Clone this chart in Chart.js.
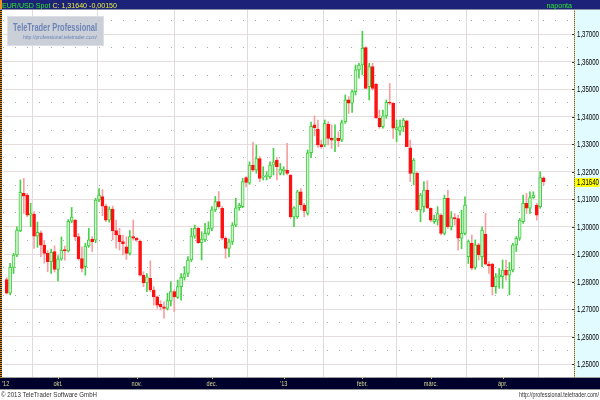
<!DOCTYPE html>
<html><head><meta charset="utf-8">
<script src="https://cdn.jsdelivr.net/npm/chart.js@4.4.1/dist/chart.umd.min.js"></script>
<style>html,body{margin:0;padding:0;background:#fff;overflow:hidden}#c{display:block}</style>
</head><body>
<canvas id="c" width="600" height="400"></canvas>
<script>
const opens = [1.2808,1.2758,1.2852,1.2897,1.2985,1.3121,1.3115,1.3042,1.3046,1.2966,1.2978,1.2933,1.2903,1.2873,1.2910,
1.2845,1.2882,1.2917,1.2912,1.3020,1.3024,1.2964,1.2884,1.2855,1.2930,1.2955,1.2951,1.3097,1.3110,1.3075,1.3024,1.3064,1.2986,1.2970,1.2946,1.2927,1.2903,1.2964,
1.2958,1.2948,1.2824,1.2796,1.2812,1.2770,1.2745,1.2718,1.2709,1.2703,1.2730,1.2764,1.2743,1.2782,1.2816,1.2830,1.2879,1.2966,1.2994,1.2942,1.2952,1.2976,
1.2994,1.3061,1.3091,1.3067,1.2958,1.2921,1.2945,1.3006,1.3069,1.3073,1.3179,1.3158,1.3224,1.3206,1.3248,1.3180,1.3183,1.3182,1.3224,1.3242,1.3194,
1.3204,1.3206,1.3188,1.3036,1.3036,1.3127,1.3079,1.3048,1.3269,1.3370,1.3355,1.3299,1.3297,1.3373,1.3321,1.3315,1.3321,1.3315,1.3382,1.3461,1.3449,1.3491,1.3570,
1.3588,1.3651,1.3509,1.3582,1.3518,1.3394,1.3364,1.3403,1.3452,1.3449,1.3352,1.3348,1.3364,1.3385,1.3287,1.3194,1.3194,1.3061,1.3073,1.3133,
1.3067,1.3018,1.3024,1.3042,1.2976,1.3103,1.3000,1.3033,1.3030,1.2958,1.2976,1.2891,1.2940,1.2852,1.2934,1.2891,1.2973,1.2864,1.2864,1.2782,1.2818,
1.2818,1.2842,1.2824,1.2842,1.2934,1.2958,1.3018,1.3085,1.3067,1.3106,1.3079,1.3073,1.3178];
const highs = [1.2815,1.2867,1.2903,1.3000,1.3170,1.3176,1.3121,1.3085,1.3055,1.3017,1.2985,1.2951,1.2913,1.2919,1.2930,
1.2895,1.2963,1.2930,1.3026,1.3070,1.3027,1.2975,1.2927,1.2940,1.2994,1.2964,1.3103,1.3139,1.3135,1.3082,1.3072,1.3075,1.3024,1.2994,1.2970,1.2964,1.2986,1.3024,
1.2961,1.2952,1.2836,1.2830,1.2876,1.2782,1.2748,1.2731,1.2727,1.2758,1.2800,1.2770,1.2806,1.2830,1.2855,1.2891,1.2994,1.3006,1.2998,1.2982,1.3012,1.3018,
1.3073,1.3110,1.3128,1.3073,1.2964,1.2955,1.3015,1.3103,1.3085,1.3176,1.3182,1.3236,1.3307,1.3297,1.3255,1.3218,1.3200,1.3236,1.3285,1.3251,1.3230,
1.3218,1.3303,1.3190,1.3073,1.3133,1.3139,1.3085,1.3279,1.3380,1.3403,1.3388,1.3315,1.3388,1.3382,1.3370,1.3370,1.3345,1.3388,1.3479,1.3473,1.3497,1.3588,1.3594,
1.3711,1.3655,1.3594,1.3594,1.3521,1.3424,1.3424,1.3461,1.3521,1.3452,1.3388,1.3388,1.3394,1.3388,1.3315,1.3248,1.3200,1.3121,1.3164,1.3167,
1.3069,1.3042,1.3073,1.3048,1.3115,1.3133,1.3055,1.3048,1.3042,1.3060,1.3109,1.2952,1.2970,1.2952,1.2940,1.3000,1.3049,1.2873,1.2867,1.2830,1.2848,
1.2879,1.2879,1.2870,1.2940,1.2964,1.3030,1.3115,1.3121,1.3127,1.3127,1.3085,1.3200,1.3182];
const lows = [1.2755,1.2752,1.2830,1.2891,1.2982,1.3048,1.3036,1.3000,1.2921,1.2925,1.2891,1.2867,1.2836,1.2830,1.2835,
1.2803,1.2878,1.2878,1.2908,1.3014,1.2952,1.2878,1.2836,1.2824,1.2925,1.2910,1.2942,1.3091,1.3040,1.3018,1.3016,1.2952,1.2922,1.2915,1.2897,1.2881,1.2897,1.2951,
1.2946,1.2820,1.2782,1.2764,1.2764,1.2715,1.2703,1.2697,1.2667,1.2697,1.2712,1.2691,1.2739,1.2733,1.2806,1.2818,1.2873,1.2958,1.2939,1.2879,1.2946,1.2970,
1.2986,1.3055,1.3067,1.2952,1.2885,1.2890,1.2935,1.3000,1.3060,1.3069,1.3145,1.3154,1.3200,1.3194,1.3164,1.3170,1.3170,1.3176,1.3188,1.3170,1.3188,
1.3188,1.3188,1.3030,1.3000,1.3030,1.3061,1.3036,1.3042,1.3251,1.3330,1.3288,1.3285,1.3291,1.3297,1.3285,1.3273,1.3291,1.3309,1.3376,1.3412,1.3416,1.3479,1.3540,
1.3552,1.3503,1.3461,1.3497,1.3394,1.3358,1.3358,1.3394,1.3443,1.3321,1.3309,1.3333,1.3345,1.3291,1.3164,1.3152,1.3055,1.3018,1.3055,1.3067,
1.3018,1.3012,1.3006,1.2970,1.2970,1.2994,1.2988,1.3006,1.2915,1.2920,1.2970,1.2866,1.2843,1.2845,1.2879,1.2855,1.2861,1.2830,1.2752,1.2758,1.2776,
1.2776,1.2806,1.2752,1.2836,1.2910,1.2952,1.3012,1.3048,1.3048,1.3103,1.3024,1.3067,1.3152];
const closes = [1.2758,1.2852,1.2897,1.2988,1.3125,1.3111,1.3042,1.3048,1.2966,1.2980,1.2933,1.2903,1.2873,1.2907,1.2845,
1.2882,1.2915,1.2912,1.3020,1.3035,1.2964,1.2884,1.2848,1.2930,1.2952,1.2946,1.3097,1.3115,1.3075,1.3024,1.3064,1.2986,1.2970,1.2946,1.2937,1.2903,1.2964,1.2958,
1.2952,1.2824,1.2796,1.2818,1.2770,1.2745,1.2715,1.2709,1.2703,1.2731,1.2764,1.2745,1.2782,1.2816,1.2830,1.2879,1.2966,1.2994,1.2942,1.2955,1.2976,1.2994,
1.3061,1.3091,1.3073,1.2958,1.2921,1.2945,1.3006,1.3069,1.3079,1.3164,1.3161,1.3224,1.3206,1.3248,1.3176,1.3184,1.3186,1.3224,1.3236,1.3218,1.3210,
1.3209,1.3194,1.3036,1.3069,1.3127,1.3079,1.3057,1.3269,1.3365,1.3360,1.3297,1.3291,1.3376,1.3321,1.3315,1.3323,1.3312,1.3379,1.3461,1.3449,1.3491,1.3570,1.3588,
1.3649,1.3503,1.3582,1.3503,1.3396,1.3364,1.3403,1.3452,1.3449,1.3358,1.3360,1.3364,1.3388,1.3291,1.3194,1.3242,1.3061,1.3115,1.3133,1.3067,
1.3024,1.3027,1.3048,1.2976,1.3103,1.3000,1.3033,1.3028,1.2958,1.2976,1.3079,1.2946,1.2849,1.2934,1.2897,1.2988,1.2864,1.2857,1.2782,1.2818,1.2825,
1.2842,1.2824,1.2842,1.2934,1.2958,1.3024,1.3085,1.3067,1.3106,1.3115,1.3042,1.3179,1.3164];

const monthStarts = [0, 15, 38, 60, 81, 104, 124, 145];
const monthLabels = ["'12", "okt.", "nov.", "dec.", "'13", "febr.", "márc.", "ápr."];
const yTicks = [1.25,1.26,1.27,1.28,1.29,1.30,1.31,1.32,1.33,1.34,1.35,1.36,1.37];
const yHalfTicks = [1.245,1.255,1.265,1.275,1.285,1.295,1.305,1.315,1.325,1.335,1.345,1.355,1.365,1.375];
const symbol = 'EUR/USD Spot';
const lastClose = 1.3164;
const lastChange = -0.0015;

const FONT = "'Liberation Sans',Arial,sans-serif";
const fmt = (v, d) => v.toFixed(d).replace('.', ',');

const idx = opens.map((_, i) => i);
const isUp = idx.map(i => closes[i] >= opens[i]);
const bodyData = idx.map(i => ({ x: i, y: [opens[i], closes[i]] }));
const wickData = idx.map(i => ({ x: i, y: [lows[i], highs[i]] }));

// draw text squeezed horizontally by factor sx
function txt(ctx, s, x, y, font, sx, align, color) {
  ctx.save();
  ctx.font = font; ctx.fillStyle = color; ctx.textAlign = align || 'left';
  ctx.translate(x, y); ctx.scale(sx, 1); ctx.fillText(s, 0, 0);
  ctx.restore();
}
function fitScale(ctx, s, font, w) { ctx.save(); ctx.font = font; const m = ctx.measureText(s).width; ctx.restore(); return w / m; }

const deco = {
  id: 'deco',
  beforeDraw(chart) {
    const { ctx, chartArea: a } = chart;
    ctx.save();
    ctx.fillStyle = '#ffffff'; ctx.fillRect(0, 0, 600, 400);
    ctx.fillStyle = '#e2fbff'; ctx.fillRect(a.right, a.top, 600 - a.right, a.bottom - a.top);
    ctx.fillStyle = '#1b2277'; ctx.fillRect(0, 0, 600, a.top - 1);
    ctx.fillStyle = '#8a8fa8'; ctx.fillRect(0, a.top - 1, 600, 1);
    ctx.fillStyle = '#a0a0a0'; ctx.fillRect(0, a.bottom, 600, 1);
    ctx.fillStyle = '#00002c'; ctx.fillRect(0, a.bottom + 1, 600, 11);
    ctx.fillStyle = '#9a9a9a'; ctx.fillRect(0, a.bottom + 12, 600, 1);
    ctx.restore();
  },
  afterDraw(chart) {
    const { ctx, chartArea: a } = chart;
    const ys = chart.scales.y, xs = chart.scales.x;
    ctx.save();
    // left border
    for (let y = a.top; y < a.bottom; y += 2) {
      ctx.fillStyle = '#222'; ctx.fillRect(0, y, 2, 1);
      ctx.fillStyle = '#e08a20'; ctx.fillRect(0, y + 1, 2, 1);
    }
    ctx.fillStyle = '#f09020'; ctx.fillRect(0, 0, 2, a.top - 1);
    // right axis border
    for (let y = a.top; y < a.bottom; y += 2) {
      ctx.fillStyle = '#d8c060'; ctx.fillRect(a.right, y, 1, 1);
      ctx.fillStyle = '#6b6b50'; ctx.fillRect(a.right, y + 1, 1, 1);
    }
    ctx.textBaseline = 'alphabetic';
    // title bar
    const tf = '8px ' + FONT;
    const rest = 'C: ' + fmt(lastClose, 5) + ' ' + (lastChange < 0 ? '-' : '+') + fmt(Math.abs(lastChange), 5);
    const full = symbol + ' ' + rest;
    const ts = fitScale(ctx, full, tf, 115);
    ctx.font = tf;
    const w1 = ctx.measureText(symbol + ' ').width * ts;
    txt(ctx, symbol, 2, 8, tf, ts, 'left', '#2ee82e');
    txt(ctx, rest, 2 + w1, 8, tf, ts, 'left', '#e8f040');
    txt(ctx, 'naponta', a.right - 2, 8, tf, ts, 'right', '#2ee82e');
    // y labels
    const yf = '9px ' + FONT;
    const ysx = fitScale(ctx, '1,37000', yf, 22);
    ctx.textBaseline = 'middle';
    yTicks.forEach(v => {
      const p = ys.getPixelForValue(v);
      ctx.fillStyle = '#333'; ctx.fillRect(a.right - 2, Math.round(p), 2, 1);
      txt(ctx, fmt(v, 5), a.right + 3, p + 0.5, yf, ysx, 'left', '#000');
    });
    // current price label
    const py = ys.getPixelForValue(lastClose);
    ctx.fillStyle = '#ffff00';
    ctx.fillRect(a.right + 1, Math.round(py) - 4, 600 - a.right - 2, 9);
    txt(ctx, fmt(lastClose, 5), a.right + 3, py + 0.5, yf, ysx, 'left', '#000');
    // x labels
    ctx.textBaseline = 'alphabetic';
    const xf = '8px ' + FONT;
    monthStarts.forEach((v, i) => {
      const p = xs.getPixelForValue(v);
      if (i > 0) { ctx.fillStyle = '#c8c070'; ctx.fillRect(Math.round(p), a.bottom, 1, 2); }
      if (i === 0) txt(ctx, monthLabels[i], 2, a.bottom + 9, xf, 0.7, 'left', '#dcdc98');
      else txt(ctx, monthLabels[i], p, a.bottom + 9, xf, 0.7, 'center', '#dcdc98');
    });
    // logo
    ctx.fillStyle = 'rgba(200,204,214,0.95)';
    ctx.fillRect(7, 16, 97, 30);
    ctx.strokeStyle = '#ececf2'; ctx.setLineDash([1, 1]); ctx.lineWidth = 1;
    ctx.strokeRect(7.5, 16.5, 96, 29);
    ctx.setLineDash([]);
    const lf = 'bold 11px ' + FONT;
    txt(ctx, 'TeleTrader Professional', 13, 31, lf, fitScale(ctx, 'TeleTrader Professional', lf, 84), 'left', '#6d84b6');
    const uf = '6px ' + FONT;
    txt(ctx, 'http://professional.teletrader.com/', 23, 39, uf, fitScale(ctx, 'http://professional.teletrader.com/', uf, 74), 'left', '#6d84b6');
    // footer
    const ff = '8px ' + FONT;
    const c1 = '\u00a9 2013 TeleTrader Software GmbH', c2 = 'http://professional.teletrader.com/';
    txt(ctx, c1, 1, 397, ff, fitScale(ctx, c1, ff, 96), 'left', '#333');
    txt(ctx, c2, 599, 397, ff, fitScale(ctx, c2, ff, 80), 'right', '#333');
    ctx.restore();
  }
};

Chart.defaults.font.family = FONT;
new Chart(document.getElementById('c'), {
  type: 'bar',
  data: {
    datasets: [
      {
        label: 'body', data: bodyData, order: 0,
        backgroundColor: idx.map(i => isUp[i] ? '#d2f5d2' : '#ff1010'),
        borderColor: idx.map(i => isUp[i] ? '#3fcf3f' : '#ff1010'),
        borderWidth: 1, borderSkipped: false, barThickness: 3, minBarLength: 1
      },
      {
        label: 'wick', data: wickData, order: 1,
        backgroundColor: idx.map(i => isUp[i] ? '#48d048' : '#f5a0a0'),
        borderWidth: 0, barThickness: 1
      }
    ]
  },
  options: {
    responsive: false, animation: false, devicePixelRatio: 1,
    layout: { padding: { left: 3, top: 10, right: 0, bottom: 0 } },
    datasets: { bar: { grouped: false } },
    plugins: { legend: { display: false }, tooltip: { enabled: false } },
    scales: {
      x: {
        type: 'linear', min: -1.08, max: 165.88, offset: false,
        afterBuildTicks: s => { s.ticks = monthStarts.map(v => ({ value: v })); },
        afterFit: s => { s.height = 23; },
        grid: { color: c => (c.index === 0 ? 'rgba(0,0,0,0)' : '#dcdcdc'), drawTicks: false },
        border: { display: false },
        ticks: { display: false }
      },
      y: {
        position: 'right', min: 1.24535, max: 1.3788,
        afterBuildTicks: s => { s.ticks = yTicks.map(v => ({ value: v })); },
        afterFit: s => { s.width = 26; },
        grid: { color: '#e6dcdc', drawTicks: false },
        border: { display: false },
        ticks: { display: false }
      },
      y2: {
        position: 'right', min: 1.24535, max: 1.3788,
        afterBuildTicks: s => { s.ticks = yHalfTicks.map(v => ({ value: v })); },
        afterFit: s => { s.width = 0; },
        grid: { color: '#a8a8a8', drawTicks: false },
        border: { display: false, dash: [1, 11] },
        ticks: { display: false }
      }
    }
  },
  plugins: [deco]
});
</script>
</body></html>
